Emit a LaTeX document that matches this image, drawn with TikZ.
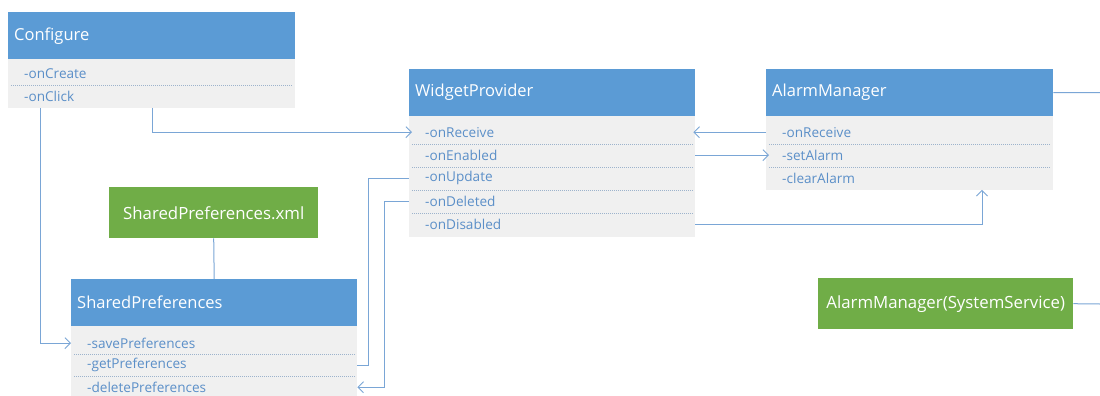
\documentclass[tikz,border=0pt]{standalone}
\usepackage{fontspec}
\setmainfont{Open Sans}
\usetikzlibrary{arrows.meta}
\definecolor{hdrblue}{HTML}{5B9BD5}
\definecolor{grn}{HTML}{70AD47}
\definecolor{bodygray}{HTML}{F0F0F0}
\definecolor{rowtext}{HTML}{5B8FC8}
\definecolor{linec}{HTML}{7AA6D6}
\definecolor{sepc}{HTML}{9DB3CC}
\tikzset{
  hdr/.style={fill=hdrblue, text=white, font=\fontsize{16.5}{19}\selectfont, anchor=north west,
    minimum height=47, inner xsep=6, inner ysep=0, align=left},
  rowitem/.style={anchor=north west, minimum height=23, inner xsep=16, inner ysep=0,
    text=rowtext, font=\fontsize{13.6}{15}\selectfont, align=left},
  greenbox/.style={fill=grn, text=white, font=\fontsize{16.8}{19}\selectfont, anchor=north west,
    minimum height=51, inner sep=0, align=center},
  sepline/.style={draw=sepc, line width=0.7, dash pattern=on 1.2pt off 0.8pt, shorten <=3, shorten >=3},
  conn/.style={draw=linec, line width=1},
  arr/.style={conn, -{Straight Barb[length=5.5pt,width=11pt,line width=0.9pt]}},
}
\begin{document}
\begin{tikzpicture}[x=1pt,y=-1pt]
\useasboundingbox[fill=white] (0,0) rectangle (1100,396);

% bodies
\fill[bodygray] (8,59) rectangle (295,108);
\fill[bodygray] (409,116) rectangle (695,237);
\fill[bodygray] (766,116) rectangle (1053,190);
\fill[bodygray] (71,326) rectangle (357,398);

% Configure
\node[hdr, text width=275] (cfgH) at (8,12) {Configure};
\node[rowitem, text width=255] (cfgCreate) at (8,61.5) {-onCreate};
\node[rowitem, text width=255] (cfgClick) at (8,84.5) {-onClick};
\draw[sepline] (cfgCreate.south west) -- (cfgCreate.south east);

% WidgetProvider
\node[hdr, text width=274] (wpH) at (409,69) {WidgetProvider};
\node[rowitem, text width=254] (wpReceive) at (409,120.5) {-onReceive};
\node[rowitem, text width=254] (wpEnabled) at (409,143.5) {-onEnabled};
\node[rowitem, text width=254] (wpUpdate) at (409,166.5) {-onUpdate};
\node[rowitem, text width=254] (wpDeleted) at (409,189.5) {-onDeleted};
\node[rowitem, text width=254] (wpDisabled) at (409,212.5) {-onDisabled};
\foreach \n in {wpReceive,wpEnabled,wpUpdate,wpDeleted}
  \draw[sepline] (\n.south west) -- (\n.south east);

% AlarmManager
\node[hdr, text width=275] (amH) at (766,69) {AlarmManager};
\node[rowitem, text width=255] (amReceive) at (766,120.5) {-onReceive};
\node[rowitem, text width=255] (amSet) at (766,143.5) {-setAlarm};
\node[rowitem, text width=255] (amClear) at (766,166.5) {-clearAlarm};
\foreach \n in {amReceive,amSet}
  \draw[sepline] (\n.south west) -- (\n.south east);

% SharedPreferences.xml
\node[greenbox, minimum width=209] (spx) at (109,187) {SharedPreferences.xml};

% SharedPreferences
\node[hdr, text width=274] (spH) at (71,279) {SharedPreferences};
\node[rowitem, text width=254, minimum height=22] (spSave) at (71,332) {-savePreferences};
\node[rowitem, text width=254, minimum height=22] (spGet) at (71,354) {-getPreferences};
\node[rowitem, text width=254, minimum height=22] (spDelete) at (71,376) {-deletePreferences};
\foreach \n in {spSave,spGet}
  \draw[sepline] (\n.south west) -- (\n.south east);

% AlarmManager(SystemService)
\node[greenbox, minimum width=255] (amss) at (818,278) {AlarmManager(SystemService)};

\coordinate (edgeA) at (1100,92.5);
\coordinate (edgeB) at (1100,304);

% connectors
\draw[arr] ([xshift=32]cfgClick.south west) |- (spSave.west);
\draw[arr] ([xshift=144]cfgClick.south west) |- ([xshift=3]wpReceive.west);
\draw[arr] (amReceive.west) -- ([xshift=-2]wpReceive.east);
\draw[arr] (wpEnabled.east) -- ([xshift=3]amSet.west);
\draw[conn] (wpUpdate.west) -- ++(-41,0) |- (spGet.east);
\draw[arr] (wpDeleted.west) -- ++(-25,0) |- (spDelete.east);
\draw[arr] (wpDisabled.east) -| ([xshift=216]amClear.south west);
\draw[conn] (spx.south) -- (spH.north);
\draw[conn] (amH.east) -- (edgeA);
\draw[conn] (amss.east) -- (edgeB);
\end{tikzpicture}
\end{document}
